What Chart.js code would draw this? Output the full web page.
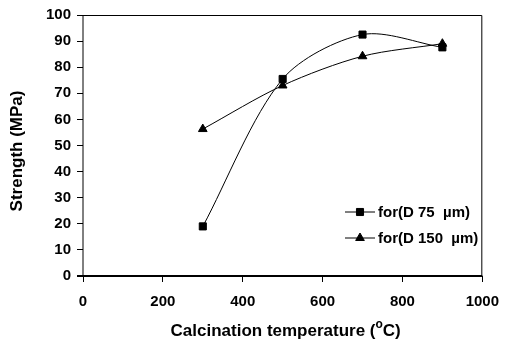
<!DOCTYPE html>
<html>
<head>
<meta charset="utf-8">
<script src="https://cdn.jsdelivr.net/npm/chart.js@4.4.1/dist/chart.umd.min.js"></script>
<style>
  body { margin: 0; background: #fff; }
  #strengthChart { display: block; }
</style>
</head>
<body>
<canvas id="strengthChart" width="510" height="344"></canvas>
<script>
// ===== Data =====
const temps = [300, 500, 700, 900];
const strengthD75 = [19, 75.5, 92.5, 87.6];
const strengthD150 = [56.3, 73, 84.2, 89];
const seriesLabels = ['for(D 75  \u00b5m)', 'for(D 150  \u00b5m)'];
const xTickValues = [0, 200, 400, 600, 800, 1000];
const yTickValues = [0, 10, 20, 30, 40, 50, 60, 70, 80, 90, 100];
const xTitle = 'Calcination temperature (';
const yTitle = 'Strength (MPa)';

const FONT = '"Liberation Sans", Arial, sans-serif';
const ctx = document.getElementById('strengthChart').getContext('2d');

function toPoints(values) {
    return temps.map((t, i) => ({ x: t, y: values[i] }));
}

// frame, titles and legend drawn by hand
const extras = {
    id: 'extras',
    afterDatasetsDraw(chart) {
        const c = chart.ctx;
        const a = chart.chartArea;
        c.save();
        c.strokeStyle = '#000';
        c.lineWidth = 1;
        c.beginPath();
        c.moveTo(a.left, a.bottom);
        c.lineTo(a.left, a.top + 0.5);
        c.lineTo(a.right - 0.5, a.top + 0.5);
        c.lineTo(a.right - 0.5, a.bottom);
        c.stroke();
        c.lineWidth = 2;
        c.beginPath();
        c.moveTo(a.left - 6, a.bottom);
        c.lineTo(a.right, a.bottom);
        c.stroke();

        // legend
        c.font = 'bold 15px ' + FONT;
        c.textBaseline = 'middle';
        c.fillStyle = '#000';
        const rows = [212, 238];
        chart.data.datasets.forEach((ds, i) => {
            const y = rows[i];
            c.lineWidth = 1;
            c.beginPath();
            c.moveTo(345, y);
            c.lineTo(375, y);
            c.stroke();
            Chart.helpers.drawPoint(c, {
                pointStyle: ds.pointStyle, radius: ds.pointRadius, borderWidth: 1
            }, 360, y);
            c.fillText(ds.label, 378, y + 1);
        });

        // y title
        c.font = 'bold 17px ' + FONT;
        c.textAlign = 'center';
        c.translate(17, 151);
        c.rotate(-Math.PI / 2);
        c.fillText(yTitle, 0, 0);
        c.setTransform(1, 0, 0, 1, 0, 0);

        // x title with superscript o
        c.textAlign = 'left';
        const big = 'bold 17px ' + FONT;
        const small = 'bold 12px ' + FONT;
        c.font = big;
        const w1 = c.measureText(xTitle).width;
        const w3 = c.measureText('C)').width;
        c.font = small;
        const w2 = c.measureText('o').width;
        let x = (a.left + a.right) / 2 + 3 - (w1 + w2 + w3) / 2;
        const y = 331;
        c.font = big;
        c.fillText(xTitle, x, y);
        x += w1;
        c.font = small;
        c.fillText('o', x, y - 6);
        x += w2;
        c.font = big;
        c.fillText('C)', x, y);
        c.restore();
    }
};

const chart = new Chart(ctx, {
    type: 'scatter',
    data: {
        datasets: [{
            label: seriesLabels[0],
            data: toPoints(strengthD75),
            showLine: true,
            tension: 0.3,
            borderColor: '#000',
            backgroundColor: '#000',
            borderWidth: 1,
            pointStyle: 'rect',
            pointRadius: 5,
            pointHoverRadius: 5
        }, {
            label: seriesLabels[1],
            data: toPoints(strengthD150),
            showLine: true,
            tension: 0.3,
            borderColor: '#000',
            backgroundColor: '#000',
            borderWidth: 1,
            pointStyle: 'triangle',
            pointRadius: 5,
            pointHoverRadius: 5
        }]
    },
    options: {
        responsive: false,
        animation: false,
        events: [],
        layout: { padding: { left: 0, top: 10, right: 17, bottom: 0 } },
        plugins: { legend: { display: false }, tooltip: { enabled: false } },
        scales: {
            x: {
                type: 'linear',
                min: 0, max: 1000,
                afterBuildTicks: s => { s.ticks = xTickValues.map(v => ({ value: v })); },
                afterFit: s => { s.height = 68; },
                grid: { drawOnChartArea: false, tickLength: 6, color: '#000' },
                border: { display: false },
                ticks: {
                    color: '#000', font: { family: FONT, size: 15, weight: 'bold' },
                    padding: 11, maxRotation: 0, callback: v => String(v)
                }
            },
            y: {
                min: 0, max: 100,
                afterBuildTicks: s => { s.ticks = yTickValues.map(v => ({ value: v })); },
                afterFit: s => { s.width = 83; },
                grid: { drawOnChartArea: false, tickLength: 6, color: '#000' },
                border: { display: false },
                ticks: {
                    color: '#000', font: { family: FONT, size: 15, weight: 'bold' },
                    padding: 6, callback: v => String(v)
                }
            }
        }
    },
    plugins: [extras]
});
</script>
</body>
</html>
